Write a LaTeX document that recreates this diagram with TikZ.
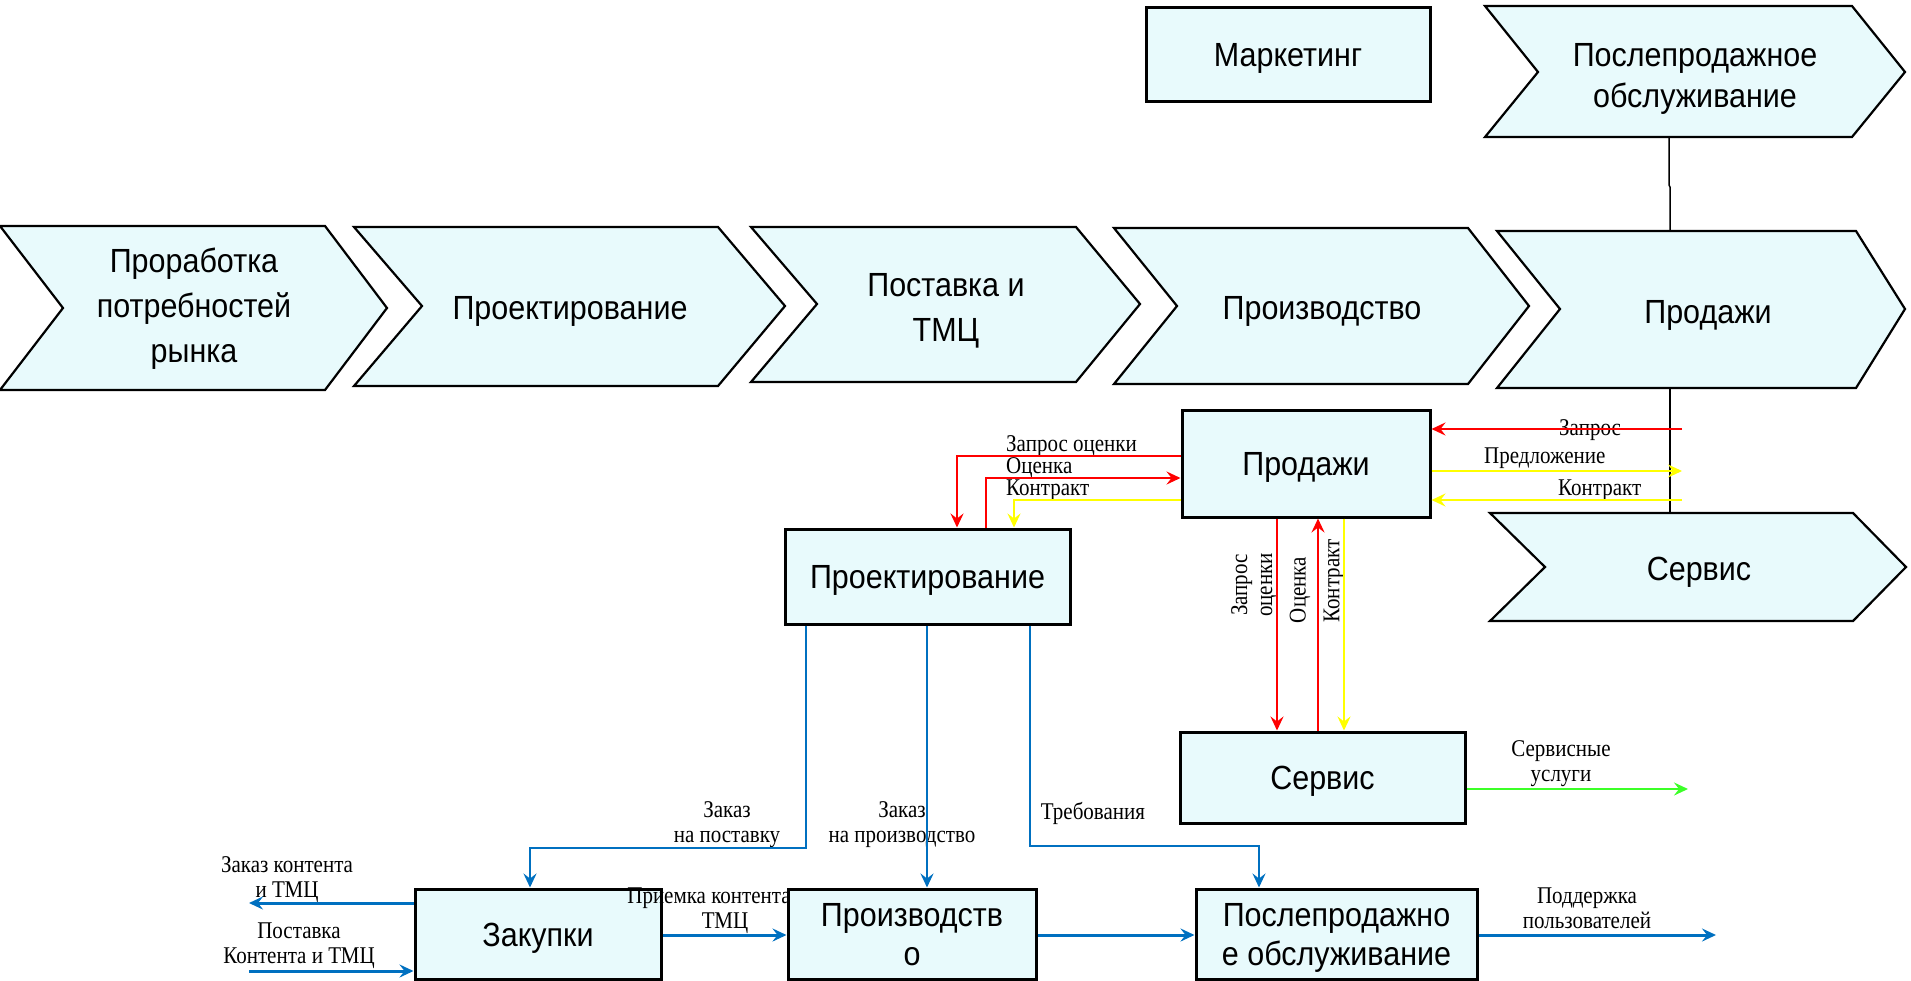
\documentclass[tikz,border=0pt]{standalone}
\usepackage{fontspec}
\setmainfont[FakeStretch=0.875]{Liberation Serif}
\newfontfamily\boxfont[FakeStretch=0.91]{Liberation Sans}
\usetikzlibrary{arrows.meta}
\definecolor{boxfill}{RGB}{232,250,252}
\definecolor{flowred}{RGB}{255,0,0}
\definecolor{flowyellow}{RGB}{255,255,0}
\definecolor{flowgreen}{RGB}{60,255,40}
\definecolor{flowblue}{RGB}{0,112,192}

\begin{document}
\begin{tikzpicture}[x=1pt,y=-1pt,
  chev/.style={draw=black, fill=boxfill, line width=2.2pt, line join=miter},
  chevtext/.style={font=\boxfont\fontsize{33.5}{45}\selectfont, align=center, inner sep=0pt,
    text height=24pt, text depth=0pt},
  block/.style={draw=black, fill=boxfill, line width=3pt, inner sep=0pt,
    font=\boxfont\fontsize{33.5}{39}\selectfont, align=center,
    text height=24pt, text depth=0pt},
  lbl/.style={font=\fontsize{24}{25}\selectfont, inner sep=0pt, align=center},
  tip/.style={-{Stealth[length=14pt,width=13pt,inset=5pt]}},
  redflow/.style={draw=flowred, line width=2pt, tip},
  yelflow/.style={draw=flowyellow, line width=2pt, tip},
  greenflow/.style={draw=flowgreen, line width=2.4pt, tip},
  blueflow/.style={draw=flowblue, line width=2pt, tip},
  bluemain/.style={draw=flowblue, line width=3pt, tip},
  link/.style={draw=black, line width=1.5pt}
]
\useasboundingbox (0,0) rectangle (1911,980);

% ---- value chain (upper row of chevrons) ----
% (multi-line texts: the box baseline is the last line, so the height covers all lines)
\draw[chev] (0,226) -- (325,226) -- (387,308) -- (325,390) -- (0,390) -- (63,308) -- cycle;
\node[chevtext, text height=114pt] (c1) at (194,305) {Проработка\\потребностей\\рынка};
\draw[chev] (354,227) -- (718,227) -- (785,306) -- (718,386) -- (354,386) -- (422,306) -- cycle;
\node[chevtext] (c2) at (570,307) {Проектирование};
\draw[chev] (751,227) -- (1076,227) -- (1140,304) -- (1076,382) -- (751,382) -- (817,304) -- cycle;
\node[chevtext, text height=69pt] (c3) at (946,306.5) {Поставка и\\ТМЦ};
\draw[chev] (1114,228) -- (1468,228) -- (1529,306) -- (1468,384) -- (1114,384) -- (1177,306) -- cycle;
\node[chevtext] (c4) at (1322,307) {Производство};
\draw[chev] (1497,231) -- (1856,231) -- (1905,309) -- (1856,388) -- (1497,388) -- (1560,309) -- cycle;
\node[chevtext] (c5) at (1708,311) {Продажи};

% ---- support chevrons on the right ----
\draw[chev] (1485,6) -- (1852,6) -- (1905,72) -- (1852,137) -- (1485,137) -- (1538,72) -- cycle;
\node[chevtext, text height=65pt, font=\boxfont\fontsize{33.5}{41}\selectfont] (c6) at (1695,74.5) {Послепродажное\\обслуживание};
\draw[chev] (1490,513) -- (1853,513) -- (1906,567) -- (1853,621) -- (1490,621) -- (1545,567) -- cycle;
\node[chevtext] (c7) at (1699,568.5) {Сервис};

\node[block, minimum width=284pt, minimum height=94pt] (mk) at (1288,54) {Маркетинг};

% attachment points of the thin vertical link
\coordinate (c6s) at (1669,137);
\coordinate (c5n) at (1670,231);
\coordinate (c5s) at (1670,388);
\coordinate (c7n) at (1670,513);
\draw[link] (c6s) -- (1669,185) -- (1670,187) -- (c5n);
\draw[link] (c5s) -- (c7n);

% ---- flow labels ----
\node[lbl, anchor=base west] (lq) at (1006,451) {Запрос оценки};
\node[lbl, anchor=base west] (lo) at (1006,473) {Оценка};
\node[lbl, anchor=base west] (lk) at (1006,495) {Контракт};
\node[lbl, anchor=base west] (rq) at (1559,435) {Запрос};
\node[lbl, anchor=base west] (rp) at (1484,463) {Предложение};
\node[lbl, anchor=base west] (rk) at (1558,495) {Контракт};
\node[lbl, rotate=90] (vq) at (1254,585) {Запрос\\оценки};
\node[lbl, rotate=90] (vo) at (1300,590) {Оценка};
\node[lbl, rotate=90] (vk) at (1334,581) {Контракт};
\node[lbl] (ls) at (1561,764) {Сервисные\\услуги};
\node[lbl] (lzp) at (727,825) {Заказ\\на поставку};
\node[lbl] (lzpr) at (902,825) {Заказ\\на производство};
\node[lbl] (ltr) at (1093,813) {Требования};
\node[lbl] (lzk) at (287,880) {Заказ контента\\и ТМЦ};
\node[lbl] (lpk) at (299,946) {Поставка\\Контента и ТМЦ};
\node[lbl] (lpp) at (1587,908) {Поддержка\\пользователей};

% ---- process blocks ----
\node[block, minimum width=248pt, minimum height=107pt] (P) at (1306,463.5) {Продажи};
\node[block, minimum width=285pt, minimum height=95pt] (D) at (927.5,576.5) {Проектирование};
\node[block, minimum width=285pt, minimum height=91pt] (S) at (1322.5,777.5) {Сервис};
\node[block, minimum width=246pt, minimum height=90pt] (Z) at (538,934) {Закупки};
% this label lies over the purchasing block and under the production block
\node[lbl] (lpr) at (709,911) {Приемка контента\\\hspace*{32pt}ТМЦ};
\node[block, minimum width=248pt, minimum height=90pt, text height=63pt] (PR) at (912,934) {Производств\\о};
\node[block, minimum width=281pt, minimum height=90pt, text height=63pt] (PP) at (1336.5,934) {Послепродажно\\е обслуживание};

% free ends of the external flows
\coordinate (extQ) at (1682,429);
\coordinate (extP) at (1682,471);
\coordinate (extK) at (1682,500);
\coordinate (extS) at (1688,789);
\coordinate (extZ) at (249,903);
\coordinate (extD) at (249,971);
\coordinate (extU) at (1716,935);

% ---- sales <-> design ----
\draw[redflow] (P.west |- 0,456) -- (957,456) -- (957,0 |- D.north);
\draw[redflow] (986,0 |- D.north) -- (986,478) -- (P.west |- 0,478);
\draw[yelflow] (P.west |- 0,500) -- (1014,500) -- (1014,0 |- D.north);

% ---- sales <-> customer side ----
\draw[redflow] (extQ) -- (P.east |- extQ);
\draw[yelflow] (P.east |- extP) -- (extP);
\draw[yelflow] (extK) -- (P.east |- extK);

% ---- sales <-> service ----
\draw[redflow] (1277,0 |- P.south) -- (1277,0 |- S.north);
\draw[redflow] (1318,0 |- S.north) -- (1318,0 |- P.south);
\draw[yelflow] (1344,0 |- P.south) -- (1344,0 |- S.north);
\draw[greenflow] (S.east |- extS) -- (extS);

% ---- design -> execution ----
\draw[blueflow] (806,0 |- D.south) -- (806,848) -- (530,848) -- (530,0 |- Z.north);
\draw[blueflow] (927,0 |- D.south) -- (927,0 |- PR.north);
\draw[blueflow] (1030,0 |- D.south) -- (1030,846) -- (1259,846) -- (1259,0 |- PP.north);

% ---- procurement, production, after-sales ----
\draw[bluemain] (Z.west |- extZ) -- (extZ);
\draw[bluemain] (extD) -- (Z.west |- extD);
\draw[bluemain] (Z.east |- 0,935) -- (PR.west |- 0,935);
\draw[bluemain] (PR.east |- 0,935) -- (PP.west |- 0,935);
\draw[bluemain] (PP.east |- extU) -- (extU);
\end{tikzpicture}
\end{document}
